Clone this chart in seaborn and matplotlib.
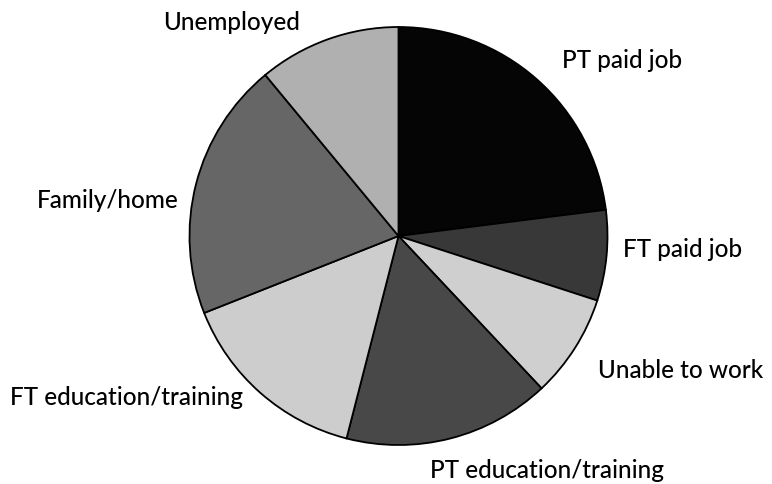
import matplotlib
matplotlib.use("Agg")
import matplotlib.pyplot as plt
import seaborn as sns

categories = ["PT paid job", "FT paid job", "Unable to work", "PT education/training",
              "FT education/training", "Family/home", "Unemployed"]
values = [23, 7, 8, 16, 15, 20, 11]
colors = ["#050505", "#383838", "#cfcfcf", "#484848", "#cdcdcd", "#666666", "#b0b0b0"]

sns.set_theme(style="white")
plt.rcParams['font.family'] = ['Lato', 'DejaVu Sans']

W, H = 772, 485
fig = plt.figure(figsize=(W / 100, H / 100), dpi=100)
ax = fig.add_axes([0, 0, 1, 1])

cx, cy, r = 398.5, H - 237, 209
ax.pie(values, colors=colors, startangle=90, counterclock=False,
       center=(cx, cy), radius=r, frame=True,
       wedgeprops=dict(edgecolor="black", linewidth=1.3))
ax.set_xlim(0, W)
ax.set_ylim(0, H)
ax.set_aspect("equal")
ax.axis("off")

label_pos = {
    "PT paid job": (562, 68),
    "FT paid job": (623, 257),
    "Unable to work": (598, 378),
    "PT education/training": (430, 478),
    "FT education/training": (10, 405),
    "Family/home": (37, 208),
    "Unemployed": (163, 30),
}
for cat in categories:
    x, y = label_pos[cat]
    ax.text(x, H - y, cat, ha="left", va="baseline", fontsize=17.5,
            fontweight="medium", color="black")

fig.savefig("out.png", dpi=100)
